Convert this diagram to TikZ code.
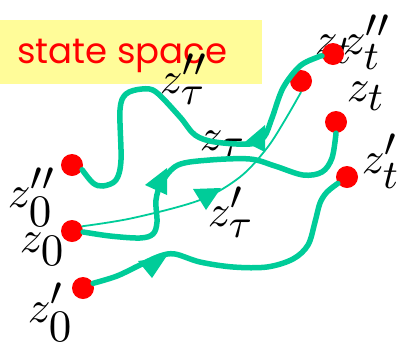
\documentclass[tikz,border=0pt]{standalone}
\usepackage{fontspec}
\newfontfamily\statefont{Poppins}
\DeclareMathSizes{10}{10}{9}{7}
\definecolor{pathgreen}{RGB}{0,204,153}
\definecolor{boxyellow}{RGB}{255,252,153}
\tikzset{
  dot/.style={circle, fill=red, minimum size=22pt, inner sep=0pt},
  lbl/.style={font=\fontsize{10}{12}\selectfont, inner sep=0pt, anchor=base west, scale=4.5, transform shape},
  thickpath/.style={draw=pathgreen, line width=5.5pt, line cap=round},
  thinpath/.style={draw=pathgreen, line width=1.8pt, line cap=round},
  tip/.style={fill=pathgreen}
}
\begin{document}
\begin{tikzpicture}[x=1pt,y=-1pt]
\useasboundingbox (0,0) rectangle (404,349);
% state space box
\fill[boxyellow] (0,20) rectangle (262,84);
\node[font=\statefont\fontsize{35.5}{40}\selectfont, text=red, inner sep=0pt, anchor=base west] (title) at (17,63) {state space};
% labels
\node[lbl] (l0pp) at (7,207) {$z''_{\textstyle 0}$};
\node[lbl] (l0) at (19,252) {$z_{\textstyle 0}$};
\node[lbl] (l0p) at (27,322) {$z'_{\textstyle 0}$};
\node[lbl] (ltpp) at (159,93) {$z''_\tau$};
\node[lbl] (lt) at (199,150) {$z_\tau$};
\node[lbl] (ltp) at (207,226) {$z'_\tau$};
\node[lbl] (lzt2) at (314,54) {$z_t$};
\node[lbl] (lttpp) at (342,54) {$z''_t$};
\node[lbl] (ltt) at (346,101) {$z_t$};
\node[lbl] (lttp) at (361,173) {$z'_t$};
% dots
\node[dot] (A) at (72,165) {};
\node[dot] (B) at (72,231) {};
\node[dot] (C) at (83,288) {};
\node[dot] (D) at (333,54) {};
\node[dot] (E) at (301,81) {};
\node[dot] (F) at (336,122) {};
\node[dot] (G) at (347,177) {};
% paths
\draw[thickpath] plot[smooth, tension=0.55] coordinates {(A.-25) (93,183) (103,186) (116,180) (121,160) (120,110) (126,94) (142,89) (156,92) (180,117) (195,135) (215,142) (250,144) (264,137) (272,118) (283,88) (300,66) (318,57) (D.190)};
\draw[thinpath] plot[smooth, tension=0.55] coordinates {(B.25) (133,218) (200,200) (240,177) (267,148) (285,120) (E.-90)};
\draw[thickpath] plot[smooth, tension=0.55] coordinates {(B.-5) (110,236) (140,238) (153,234) (157,222) (156,200) (162,182) (178,165) (210,160) (250,159) (275,166) (303,175) (322,172) (332,158) (F.-90)};
\draw[thickpath] plot[smooth, tension=0.55] coordinates {(C.25) (117,276) (140,265) (160,256) (175,254) (200,262) (233,267) (267,267) (293,259) (308,245) (315,222) (320,203) (327,192) (G.215)};
% arrow tips
\fill[tip] (245,142) -- (265,125) -- (265,152) -- cycle;
\fill[tip] (145,185) -- (167,168) -- (167,195) -- cycle;
\fill[tip] (193,189) -- (221,188) -- (206,210) -- cycle;
\fill[tip] (138,261) -- (166,257) -- (152,278) -- cycle;
\end{tikzpicture}
\end{document}
